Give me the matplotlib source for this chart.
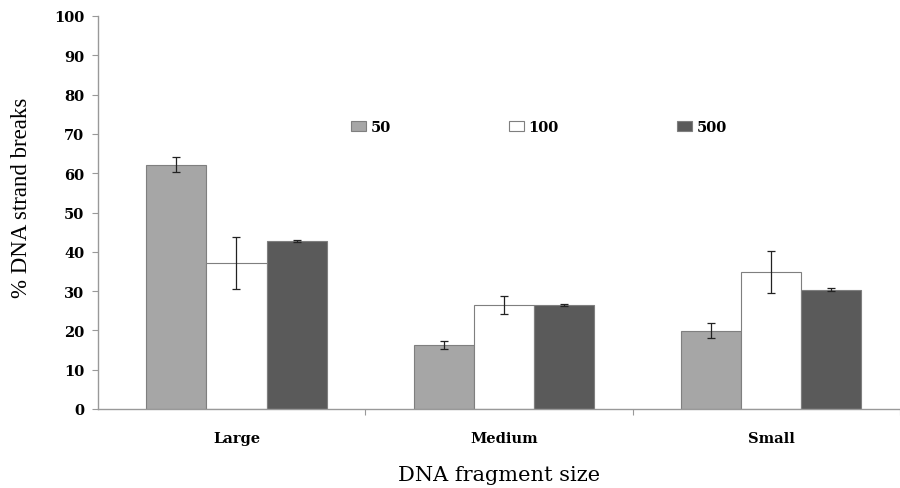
import numpy as np
import matplotlib.pyplot as plt

# Data
categories = ['Large', 'Medium', 'Small']
doses = ['50', '100', '500']
values_50 = [62.2, 16.3, 19.9]
values_100 = [37.2, 26.5, 34.9]
values_500 = [42.8, 26.5, 30.4]
err_50 = [1.9, 1.0, 1.9]
err_100 = [6.6, 2.2, 5.3]
err_500 = [0.3, 0.3, 0.3]

colors = ['#a6a6a6', '#ffffff', '#5a5a5a']
series = [values_50, values_100, values_500]
errors = [err_50, err_100, err_500]

plt.rcParams['font.family'] = ['Liberation Serif', 'DejaVu Serif']
bold_font = {'family': 'DejaVu Serif', 'weight': 'bold', 'size': 10.5}

fig = plt.figure(figsize=(9, 4.89), dpi=100)
ax = fig.add_axes([98 / 900, 1 - 410 / 489, 1 - 98 / 900, (410 - 17) / 489])

x = np.arange(len(categories)) + 0.018
width = 0.225
for i, (vals, errs) in enumerate(zip(series, errors)):
    ax.bar(x + (i - 1) * width, vals, width, color=colors[i], edgecolor='#7f7f7f',
           linewidth=0.8, label=doses[i], zorder=2)
    ax.errorbar(x + (i - 1) * width, vals, yerr=errs, fmt='none', ecolor='#222222',
                elinewidth=0.9, capsize=3, capthick=0.9, zorder=3)

ax.set_xlim(-0.5, -0.5 + 802 / 269)
ax.set_ylim(0, 100)
ax.set_yticks(range(0, 101, 10))
ax.set_yticklabels([str(v) for v in range(0, 101, 10)], fontdict=bold_font)

ax.set_xticks([0.5, 1.5, 2.5])
ax.set_xticklabels([])
ax.set_xticks(x, minor=True)
ax.set_xticklabels(categories, minor=True, fontdict=bold_font)
ax.tick_params(axis='x', which='minor', length=0, pad=16)
ax.tick_params(axis='x', which='major', length=4, color='#999999', direction='out')
ax.tick_params(axis='y', length=4, color='#999999', direction='out', pad=6)

for side in ['top', 'right']:
    ax.spines[side].set_visible(False)
for side in ['left', 'bottom']:
    ax.spines[side].set_color('#999999')
    ax.spines[side].set_linewidth(1.0)

ax.set_ylabel('% DNA strand breaks', fontsize=16.5)
ax.yaxis.label.set_va('center')
ax.yaxis.set_label_coords(-0.095, 0.54)
ax.set_xlabel('DNA fragment size', fontsize=15, family='DejaVu Serif', labelpad=14)

fig.legend(loc='center left', bbox_to_anchor=(351 / 900, 1 - 128 / 489), ncol=3,
           frameon=False, handlelength=1.0, handleheight=0.72, handletextpad=0.35,
           columnspacing=8.1, borderpad=0, borderaxespad=0, prop=bold_font)

fig.savefig('out.png', dpi=100)
